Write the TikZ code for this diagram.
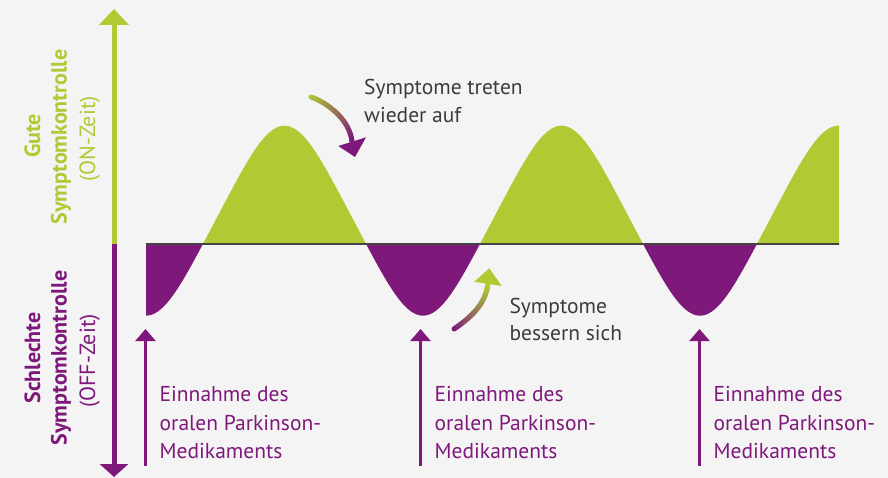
\documentclass[tikz,border=0pt]{standalone}
\usepackage{fontspec}
\setmainfont{PT Sans}
\usetikzlibrary{arrows.meta}
\definecolor{bg}{HTML}{F4F4F4}
\definecolor{lime}{HTML}{AFCA32}
\definecolor{plum}{HTML}{7E197B}
\definecolor{ink}{HTML}{3C3C3C}
\definecolor{axisgray}{HTML}{444444}
\tikzset{
  lbl/.style={font=\fontsize{21.5}{28}\selectfont, inner sep=0pt, anchor=base west},
  sidelbl/.style={font=\fontsize{22}{28}\selectfont, inner sep=0pt, anchor=base, rotate=90},
  dosearrow/.style={plum, line width=2.5pt, -{Triangle[width=20pt,length=12pt]}},
}
\newcommand\bezxy[9]{%
  \pgfmathsetmacro\bu{1-#1}%
  \pgfmathsetmacro\bx{\bu*\bu*\bu*#2+3*\bu*\bu*#1*#4+3*\bu*#1*#1*#6+#1*#1*#1*#8}%
  \pgfmathsetmacro\by{\bu*\bu*\bu*#3+3*\bu*\bu*#1*#5+3*\bu*#1*#1*#7+#1*#1*#1*#9}%
}
\begin{document}
\begin{tikzpicture}[x=1pt,y=-1pt]
\fill[bg] (0,0) rectangle (888,478);
\useasboundingbox (0,0) rectangle (888,478);

% wave
\begin{scope}
\clip (0,0) rectangle (888,244);
\fill[lime] plot[domain=146:839,samples=240] (\x,{220.7+95*(0.97*cos((\x-146)*1.29964)+0.03*cos(3*(\x-146)*1.29964))}) -- (839,244) -- (146,244) -- cycle;
\end{scope}
\begin{scope}
\clip (0,244) rectangle (888,478);
\fill[plum] plot[domain=146:839,samples=240] (\x,{220.7+95*(0.97*cos((\x-146)*1.29964)+0.03*cos(3*(\x-146)*1.29964))}) -- (839,244) -- (146,244) -- cycle;
\end{scope}
\coordinate (bl) at (146,244);
\coordinate (br) at (839,244);
\draw[axisgray, line width=2.5pt] (bl) -- (br);

% vertical axis
\coordinate (axmid) at (114,244);
\coordinate (axtop) at (114,9);
\coordinate (axbot) at (114,477);
\draw[lime, line width=5pt, -{Triangle[width=29pt,length=16pt]}] (axmid) -- (axtop);
\draw[plum, line width=5pt, -{Triangle[width=28pt,length=13pt]}] (axmid) -- (axbot);

% side labels
\node[sidelbl, lime, font=\fontsize{22}{28}\selectfont\bfseries] (g1) at (40,136) {Gute};
\node[sidelbl, lime, font=\fontsize{22}{28}\selectfont\bfseries] (g2) at (66.7,137) {Symptomkontrolle};
\node[sidelbl, lime] (g3) at (95,139) {(ON-Zeit)};
\node[sidelbl, plum, font=\fontsize{22}{28}\selectfont\bfseries] (s1) at (40,358) {Schlechte};
\node[sidelbl, plum, font=\fontsize{22}{28}\selectfont\bfseries] (s2) at (66.7,358) {Symptomkontrolle};
\node[sidelbl, plum] (s3) at (95,361) {(OFF-Zeit)};

% dose arrows and texts
\foreach \n/\px in {1/145.5,2/420.5,3/699.5}{
  \coordinate (dose\n) at (\px,466);
  \coordinate (dosetip\n) at (\px,329);
  \draw[dosearrow] (dose\n) -- (dosetip\n);
  \node[lbl, plum] (ta\n) at (\px+14,401.7) {Einnahme des};
  \node[lbl, plum] (tb\n) at (\px+14,430) {oralen Parkinson-};
  \node[lbl, plum] (tc\n) at (\px+14,458) {Medikaments};
}

% curved arrow 1 (green -> purple)
\foreach \i in {0,...,29}{
  \pgfmathsetmacro\ta{\i/30}
  \pgfmathsetmacro\tb{(\i+1)/30}
  \pgfmathtruncatemacro\mix{100*\i/29}
  \bezxy{\ta}{311}{97}{328}{103}{350}{120}{352}{142}
  \let\xa\bx \let\ya\by
  \bezxy{\tb}{311}{97}{328}{103}{350}{120}{352}{142}
  \draw[line width=5pt, line cap=round, color=plum!\mix!lime] (\xa,\ya) -- (\bx,\by);
}
\fill[plum] (355,157) -- (338.3,146) -- (366,137.3) -- cycle;

% curved arrow 2 (purple -> green)
\foreach \i in {0,...,29}{
  \pgfmathsetmacro\ta{\i/30}
  \pgfmathsetmacro\tb{(\i+1)/30}
  \pgfmathtruncatemacro\mix{100*\i/29}
  \bezxy{\ta}{454}{329}{467}{320}{486}{306}{488}{283}
  \let\xa\bx \let\ya\by
  \bezxy{\tb}{454}{329}{467}{320}{486}{306}{488}{283}
  \draw[line width=5pt, line cap=round, color=lime!\mix!plum] (\xa,\ya) -- (\bx,\by);
}
\fill[lime] (489.3,268.3) -- (474.3,281.7) -- (501.7,286) -- cycle;

% annotation texts
\node[lbl, ink] (up1) at (364,94.3) {Symptome treten};
\node[lbl, ink] (up2) at (364,122.7) {wieder auf};
\node[lbl, ink] (dn1) at (509.3,313.3) {Symptome};
\node[lbl, ink] (dn2) at (509.3,340) {bessern sich};
\end{tikzpicture}
\end{document}
